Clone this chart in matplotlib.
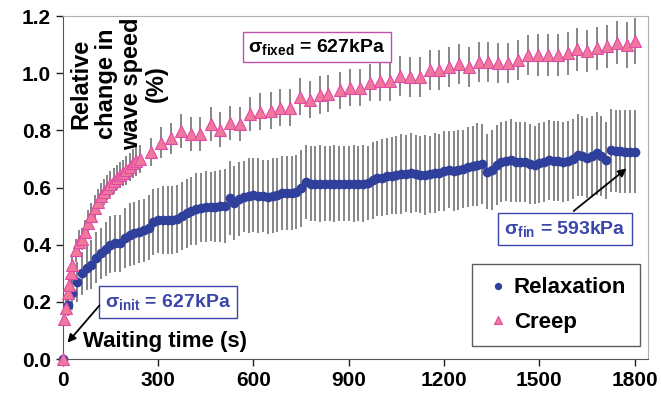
import numpy as np
import matplotlib
matplotlib.use('Agg')
import matplotlib.pyplot as plt

plt.rcParams['font.family'] = ['Liberation Sans', 'DejaVu Sans']
plt.rcParams['font.weight'] = 'bold'
plt.rcParams['mathtext.fontset'] = 'custom'
plt.rcParams['mathtext.rm'] = 'Liberation Sans:bold'
plt.rcParams['mathtext.it'] = 'Liberation Sans:bold'
plt.rcParams['mathtext.bf'] = 'Liberation Sans:bold'

# relaxation test: sampled every 15 s
relax_t = np.arange(0, 1801, 15)
relax_val = [
    0.0, 0.19, 0.23, 0.27, 0.30, 0.32, 0.33, 0.355, 0.37, 0.385,
    0.40, 0.405, 0.405, 0.425, 0.435, 0.44, 0.445, 0.45, 0.46, 0.48,
    0.485, 0.486, 0.486, 0.487, 0.49, 0.50, 0.51, 0.518, 0.525, 0.53,
    0.533, 0.533, 0.533, 0.535, 0.535, 0.563, 0.545, 0.56, 0.568, 0.572,
    0.574, 0.572, 0.57, 0.568, 0.572, 0.575, 0.58, 0.58, 0.58, 0.585,
    0.598, 0.62, 0.614, 0.614, 0.614, 0.614, 0.614, 0.614, 0.614, 0.614,
    0.614, 0.614, 0.614, 0.614, 0.616, 0.625, 0.632, 0.635, 0.64, 0.642,
    0.644, 0.646, 0.648, 0.65, 0.648, 0.645, 0.644, 0.647, 0.65, 0.652,
    0.658, 0.662, 0.657, 0.66, 0.665, 0.673, 0.676, 0.68, 0.682, 0.656,
    0.66, 0.68, 0.69, 0.692, 0.695, 0.69, 0.69, 0.688, 0.682, 0.679,
    0.685, 0.69, 0.696, 0.694, 0.692, 0.69, 0.692, 0.70, 0.714, 0.712,
    0.705, 0.71, 0.72, 0.71, 0.696, 0.73, 0.728, 0.727, 0.726, 0.726,
    0.726]
relax_err = [
    0.0, 0.04, 0.06, 0.07, 0.075, 0.08, 0.085, 0.09, 0.09, 0.095,
    0.10, 0.10, 0.10, 0.105, 0.11, 0.11, 0.11, 0.11, 0.115, 0.115,
    0.115, 0.12, 0.12, 0.12, 0.12, 0.12, 0.12, 0.12, 0.125, 0.12,
    0.125, 0.12, 0.125, 0.125, 0.13, 0.13, 0.13, 0.13, 0.125, 0.13,
    0.13, 0.13, 0.125, 0.13, 0.13, 0.13, 0.13, 0.13, 0.13, 0.13,
    0.135, 0.13, 0.13, 0.13, 0.135, 0.13, 0.13, 0.135, 0.13, 0.13,
    0.13, 0.135, 0.13, 0.135, 0.13, 0.135, 0.13, 0.135, 0.135, 0.135,
    0.135, 0.14, 0.135, 0.14, 0.135, 0.135, 0.14, 0.135, 0.14, 0.135,
    0.14, 0.135, 0.14, 0.14, 0.135, 0.14, 0.14, 0.145, 0.14, 0.13,
    0.14, 0.14, 0.14, 0.14, 0.145, 0.14, 0.14, 0.14, 0.14, 0.135,
    0.14, 0.14, 0.14, 0.14, 0.14, 0.14, 0.14, 0.14, 0.145, 0.14,
    0.14, 0.14, 0.145, 0.14, 0.135, 0.145, 0.145, 0.145, 0.145, 0.145,
    0.145]

# creep test: dense at start, then roughly every 31 s
creep_t = [0, 5, 10, 15, 20, 25, 30, 40, 50, 60, 70, 80, 90, 100, 110, 120,
           130, 140, 150, 160, 170, 180, 190, 200, 210, 220, 230,
           242, 277, 309, 340, 371, 403, 432, 466, 495, 525, 559, 590, 622,
           654, 685, 716, 746, 777, 809, 835,
           872, 903, 934, 966, 997, 1029, 1060, 1092, 1123, 1155, 1184, 1216,
           1246, 1278, 1310, 1339, 1371, 1402, 1434, 1465, 1497, 1528, 1560,
           1591, 1619, 1651, 1682, 1714, 1745, 1777, 1800]
creep_val = [0.0, 0.14, 0.18, 0.23, 0.26, 0.30, 0.33, 0.38, 0.41, 0.42, 0.445,
             0.475, 0.50, 0.53, 0.55, 0.57, 0.585, 0.60, 0.612, 0.624, 0.635,
             0.645, 0.652, 0.66, 0.672, 0.685, 0.692,
             0.70, 0.725, 0.757, 0.772, 0.798, 0.787, 0.787, 0.822, 0.803,
             0.827, 0.822, 0.857, 0.865, 0.869, 0.88, 0.88, 0.918, 0.908,
             0.924, 0.929,
             0.941, 0.95, 0.95, 0.967, 0.973, 0.973, 0.992, 0.988, 0.986,
             1.013, 1.013, 1.023, 1.034, 1.023, 1.04, 1.04, 1.037, 1.037,
             1.048, 1.064, 1.064, 1.064, 1.064, 1.07, 1.084, 1.078, 1.087,
             1.095, 1.107, 1.099, 1.114]
creep_err = [0.0, 0.02, 0.025, 0.03, 0.03, 0.035, 0.035, 0.04, 0.04, 0.04,
             0.04, 0.045, 0.045, 0.045, 0.045, 0.045, 0.045, 0.045, 0.045,
             0.045, 0.045, 0.045, 0.045, 0.05, 0.05, 0.05, 0.05,
             0.05, 0.05, 0.055, 0.055, 0.06, 0.06, 0.06, 0.06, 0.06, 0.06,
             0.06, 0.06, 0.065, 0.065, 0.065, 0.065, 0.065, 0.065, 0.065,
             0.065,
             0.065, 0.065, 0.065, 0.065, 0.07, 0.07, 0.07, 0.07, 0.07, 0.07,
             0.07, 0.07, 0.07, 0.07, 0.07, 0.07, 0.07, 0.07, 0.07, 0.07,
             0.075, 0.075, 0.075, 0.075, 0.075, 0.075, 0.075, 0.075, 0.075,
             0.08, 0.08]

x_ticks = [0, 300, 600, 900, 1200, 1500, 1800]
y_ticks = [0.0, 0.2, 0.4, 0.6, 0.8, 1.0, 1.2]

blue = '#2f3f9c'
pink = '#f0789a'
magenta = '#e04aa8'
bar_col = '#666666'

fig = plt.figure(figsize=(6.61, 4.03), dpi=100)
ax = fig.add_axes([0.095, 0.109, 0.885, 0.851])

ax.errorbar(relax_t, relax_val, yerr=relax_err, fmt='none', ecolor=bar_col,
            elinewidth=1.1, capsize=0, zorder=2)
ax.errorbar(creep_t, creep_val, yerr=creep_err, fmt='none', ecolor=bar_col,
            elinewidth=1.1, capsize=0, zorder=2)
ax.plot(relax_t, relax_val, 'o', color=blue, markersize=7, markeredgewidth=0,
        label='Relaxation', zorder=3, clip_on=False)
ax.plot(creep_t, creep_val, '^', color=pink, markeredgecolor=magenta,
        markersize=8, markeredgewidth=0.8, label='Creep', zorder=4, clip_on=False)

ax.set_xlim(0, 1841)
ax.set_ylim(0, 1.2)
ax.set_xticks(x_ticks)
ax.set_yticks(y_ticks)
ax.set_yticklabels(['%.1f' % v for v in y_ticks])
ax.tick_params(direction='out', length=5, width=1, labelsize=15, colors='#222222')
for lab in ax.get_xticklabels() + ax.get_yticklabels():
    lab.set_fontweight('bold')
    lab.set_color('black')
for side in ['left', 'bottom']:
    ax.spines[side].set_color('#555555')
for side in ['top', 'right']:
    ax.spines[side].set_color('#b0b0b0')

# axis labels drawn inside the plot
ax.text(0.096, 0.995, 'Relative\nchange in\nwave speed\n(%)', transform=ax.transAxes,
        rotation=90, ha='center', va='top', fontsize=17, fontweight='bold',
        multialignment='center', linespacing=1.12)
ax.text(65, 0.06, 'Waiting time (s)', ha='left', va='center', fontsize=16,
        fontweight='bold')

# stress annotations
ax.text(800, 1.092, 'σ$_{\\mathrm{fixed}}$ = 627kPa', ha='center', va='center',
        fontsize=14, fontweight='bold', color='black',
        bbox=dict(boxstyle='square,pad=0.25', fc='white', ec='#c050a8', lw=1))
ax.text(330, 0.2, 'σ$_{\\mathrm{init}}$ = 627kPa', ha='center', va='center',
        fontsize=14, fontweight='bold', color='#3a46aa',
        bbox=dict(boxstyle='square,pad=0.3', fc='white', ec='#3a46aa', lw=1))
ax.text(1580, 0.455, 'σ$_{\\mathrm{fin}}$ = 593kPa', ha='center', va='center',
        fontsize=14, fontweight='bold', color='#3a46aa',
        bbox=dict(boxstyle='square,pad=0.3', fc='white', ec='#3a46aa', lw=1))
ax.annotate('', xy=(9, 0.05), xytext=(121, 0.195),
            arrowprops=dict(arrowstyle='-|>', color='black', lw=1.3, mutation_scale=12))
ax.annotate('', xy=(1781, 0.673), xytext=(1601, 0.512),
            arrowprops=dict(arrowstyle='-|>', color='black', lw=1.3, mutation_scale=12))

leg = ax.legend(loc='lower right', bbox_to_anchor=(0.986, 0.038), borderaxespad=0,
                frameon=True, fancybox=False, handletextpad=0.1, handlelength=1.2,
                markerscale=0.75, borderpad=0.6, labelspacing=0.6,
                prop={'weight': 'bold', 'size': 16})
leg.get_frame().set_edgecolor('#333333')
leg.get_frame().set_linewidth(1)

fig.savefig('out.png', dpi=100)
